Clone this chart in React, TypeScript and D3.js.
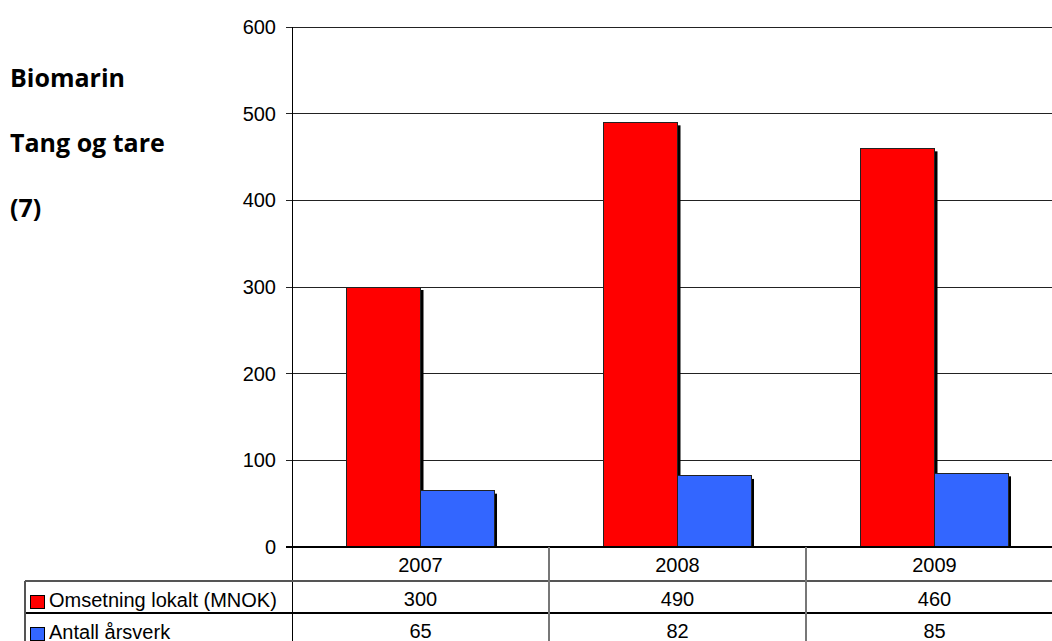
import * as d3 from "d3";

const CATEGORIES = ["2007", "2008", "2009"];
const SERIES = ["Omsetning lokalt (MNOK)", "Antall årsverk"];
const OMSETNING = [300, 490, 460];
const ARSVERK = [65, 82, 85];
const Y_TICKS = [0, 100, 200, 300, 400, 500, 600];
const TITLE_LINES = ["Biomarin", "Tang og tare", "(7)"];
const COLORS = ["#ff0000", "#3366ff"];

const W = 1052;
const H = 641;
const PLOT = { left: 292, right: 1063, top: 27, bottom: 547 };
const TABLE = { left: 25, rows: [547, 581, 613, 645] };
const FONT = "'Liberation Sans', Arial, sans-serif";

export default function App() {
  const values = [OMSETNING, ARSVERK];

  const x0 = d3
    .scaleBand<string>()
    .domain(CATEGORIES)
    .range([PLOT.left, PLOT.right])
    .padding(0);
  const bw = x0.bandwidth();
  const x1 = d3
    .scaleBand<string>()
    .domain(SERIES)
    .range([bw * 0.214, bw * 0.786])
    .padding(0);

  const y = d3.scaleLinear().domain([0, 600]).range([PLOT.bottom, PLOT.top]);

  const shadow = 3;

  return (
    <svg
      width={W}
      height={H}
      style={{ position: "absolute", left: 0, top: 0, background: "#fff" }}
    >
      {/* title */}
      {TITLE_LINES.map((t, i) => (
        <text
          key={t}
          x={10}
          y={87 + i * 65}
          fontFamily="'Open Sans', sans-serif"
          fontWeight={700}
          fontSize={25}
          fill="#000"
        >
          {t}
        </text>
      ))}

      {/* gridlines + ticks */}
      {Y_TICKS.map((t) => (
        <g key={t}>
          <line
            x1={PLOT.left - 6}
            x2={W}
            y1={y(t)}
            y2={y(t)}
            stroke={t === 0 ? "#000" : "#222"}
            strokeWidth={1}
            shapeRendering="crispEdges"
          />
          <text
            x={276}
            y={y(t)}
            dy="0.35em"
            textAnchor="end"
            fontFamily={FONT}
            fontSize={20}
            fill="#000"
          >
            {t}
          </text>
        </g>
      ))}

      {/* bars with drop shadow */}
      {CATEGORIES.map((c, ci) => (
        <g key={c} transform={`translate(${x0(c)},0)`}>
          {SERIES.map((s, si) => {
            const v = values[si][ci];
            const bx = x1(s)!;
            const by = y(v);
            return (
              <g key={s}>
                <rect
                  x={bx + shadow}
                  y={by + shadow}
                  width={x1.bandwidth()}
                  height={PLOT.bottom - by - shadow}
                  fill="#000"
                />
                <rect
                  x={bx}
                  y={by}
                  width={x1.bandwidth()}
                  height={PLOT.bottom - by}
                  fill={COLORS[si]}
                  stroke="#222"
                  strokeWidth={1}
                  shapeRendering="crispEdges"
                />
              </g>
            );
          })}
        </g>
      ))}

      {/* axis line */}
      <line
        x1={PLOT.left}
        x2={PLOT.left}
        y1={PLOT.top}
        y2={H}
        stroke="#000"
        strokeWidth={1}
        shapeRendering="crispEdges"
      />
      <line
        x1={PLOT.left - 6}
        x2={W}
        y1={PLOT.bottom}
        y2={PLOT.bottom}
        stroke="#000"
        strokeWidth={1.5}
        shapeRendering="crispEdges"
      />

      {/* data table */}
      {TABLE.rows.slice(1, 3).map((ry, i) => (
        <line
          key={ry}
          x1={TABLE.left}
          x2={W}
          y1={ry}
          y2={ry}
          stroke={i === 0 ? "#555" : "#000"}
          strokeWidth={1.5}
          shapeRendering="crispEdges"
        />
      ))}
      <line
        x1={TABLE.left}
        x2={TABLE.left}
        y1={TABLE.rows[1]}
        y2={H}
        stroke="#555"
        strokeWidth={1.5}
        shapeRendering="crispEdges"
      />
      {CATEGORIES.slice(1).map((c) => (
        <line
          key={c}
          x1={x0(c)}
          x2={x0(c)}
          y1={PLOT.bottom}
          y2={H}
          stroke="#777"
          strokeWidth={1.5}
          shapeRendering="crispEdges"
        />
      ))}
      {CATEGORIES.map((c, ci) => (
        <g key={c} fontFamily={FONT} fontSize={20} fill="#000" textAnchor="middle">
          <text x={x0(c)! + bw / 2} y={572}>
            {c}
          </text>
          <text x={x0(c)! + bw / 2} y={606}>
            {OMSETNING[ci]}
          </text>
          <text x={x0(c)! + bw / 2} y={638}>
            {ARSVERK[ci]}
          </text>
        </g>
      ))}
      {SERIES.map((s, si) => {
        const top = TABLE.rows[si + 1];
        return (
          <g key={s}>
            <rect
              x={30}
              y={top + 14}
              width={14}
              height={13}
              fill={COLORS[si]}
              stroke="#000"
              strokeWidth={1}
              shapeRendering="crispEdges"
            />
            <text x={49} y={top + 26} fontFamily={FONT} fontSize={20} fill="#000">
              {s}
            </text>
          </g>
        );
      })}
    </svg>
  );
}
